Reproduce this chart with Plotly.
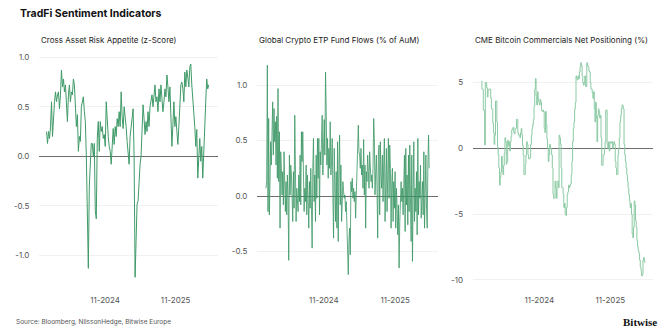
import pandas as pd
import plotly.graph_objects as go

# ---------------- data ----------------
risk_start, risk_end = "2024-01-03", "2026-04-21"
risk_appetite = [
    0.25, 0.13, 0.25, 0.18, 0.3, 0.55, 0.2, 0.45, 0.55, 0.65, 0.55, 0.62, 0.65, 0.48, 0.62, 0.87,
    0.7, 0.78, 0.65, 0.72, 0.45, 0.35, 0.62, 0.72, 0.55, 0.65, 0.62, 0.78, 0.72, 0.45, 0.3, 0.42,
    0.05, 0.2, 0.15, 0.5, 0.55, 0.6, 0.45, 0.35, 0.0, -0.5, -1.13, -0.3, -0.12, 0.13, 0.13, 0.0,
    0.13, -0.55, -0.63, 0.18, 0.35, 0.05, 0.35, 0.25, 0.3, 0.18, 0.22, 0.1, 0.55, 0.3, 0.2, 0.1,
    0.05, -0.08, 0.15, 0.28, 0.12, 0.3, 0.2, 0.38, 0.3, 0.45, 0.3, 0.65, 0.4, 0.28, 0.5, 0.42,
    0.3, 0.15, 0.05, -0.08, 0.2, 0.3, 0.4, 0.48, 0.0, -1.22, -0.85, -0.48, -0.45, -0.2, -0.08, 0.0,
    0.25, 0.52, 0.38, 0.22, 0.35, 0.25, 0.45, 0.3, 0.5, 0.55, 0.62, 0.5, 0.62, 0.72, 0.55, 0.6,
    0.45, 0.68, 0.55, 0.72, 0.58, 0.45, 0.55, 0.68, 0.6, 0.82, 0.7, 0.55, 0.7, 0.3, 0.1, 0.32,
    0.55, 0.3, 0.4, 0.25, 0.12, 0.3, 0.5, 0.72, 0.75, 0.68, 0.55, 0.85, 0.7, 0.87, 0.8, 0.7,
    0.9, 0.93, 0.72, 0.6, 0.45, 0.3, 0.1, 0.27, -0.22, 0.0, 0.18, -0.05, 0.1, -0.22, 0.12, 0.3,
    0.55, 0.78, 0.68, 0.72,
]

flows_start, flows_end = "2024-01-10", "2026-04-24"
etp_flows = [
    0.07, 0.13, 1.18, -0.14, 0.70, -0.17, 0.13, 0.49, 0.28, 0.49, 0.85, 0.37, 0.79, 0.49, 0.67, 0.28,
    0.72, 0.16, 0.97, 0.13, 0.58, -0.29, 0.40, 0.25, 0.01, 0.22, -0.08, 0.40, 0.07, -0.14, 0.13, -0.17,
    0.19, -0.02, -0.58, 0.37, 0.01, 0.28, 0.19, 0.01, -0.23, 0.22, -0.11, 0.73, 0.04, -0.23, 0.07, -0.08,
    -0.14, 0.19, -0.05, 0.37, -0.08, 0.58, 0.31, 0.58, 0.22, -0.14, 0.07, -0.05, 0.28, -0.17, 0.19, 0.01,
    -0.29, 0.13, -0.11, 0.25, -0.02, -0.47, 0.25, 0.52, -0.05, 0.19, -0.23, 0.37, -0.02, 0.52, 0.16, 0.52,
    -0.17, 0.40, 0.28, 0.52, 0.73, 0.19, 0.46, 0.69, 0.37, 1.12, 0.79, 0.28, 0.52, 0.16, 0.43, 0.25,
    0.67, 0.19, 0.31, 0.52, 0.01, -0.38, 0.43, 0.13, -0.23, 0.22, -0.29, 0.49, -0.41, 0.25, 0.55, -0.08,
    0.28, -0.23, 0.01, 0.13, 0.04, -0.02, 0.01, -0.14, -0.05, -0.29, -0.47, -0.71, -0.41,
    -0.29, -0.53, 0.13, 0.04, 0.16, -0.02, 0.07, -0.05, 0.04, -0.20, 0.01, 0.13, 0.28, 0.64, 0.40, 0.37,
    0.25, 0.43, 0.19, 0.28, 0.07, 0.51, 0.01, 0.28, -0.29, 0.22, 0.13, 0.37, 0.22, 0.07, 0.40, 0.28,
    0.13, 0.19, 0.07, 0.25, 0.70, 0.52, 0.01, 0.22, 0.37, 0.07, -0.38, 0.37, 0.46, -0.17, 0.49, 0.19,
    0.07, 0.37, -0.05, 0.31, 0.52, -0.23, 0.28, 0.43, -0.14, 0.25, 0.52, -0.02, 0.46, 0.25, -0.29, 0.13,
    0.25, -0.23, 0.13, -0.11, 0.22, -0.29, 0.07, -0.11, -0.35, -0.08, -0.65, -0.23, -0.05, 0.13, -0.05, 0.07,
    -0.17, 0.10, 0.37, -0.32, 0.43, -0.08, 0.19, -0.26, 0.37, -0.14, 0.46, -0.02, -0.41, 0.37, -0.59, 0.01,
    0.49, -0.23, 0.07, -0.14, 0.22, -0.35, 0.52, -0.17, 0.13, -0.02, 0.28, -0.20, 0.01, 0.13, -0.17, 0.40,
    -0.29, -0.02, 0.37, -0.11, -0.29, 0.28, 0.55, 0.25,
]

cme_start, cme_end = "2024-01-08", "2026-04-28"
cme_positioning = [
    5.1, 4.5, 4.5, 2.9, 2.9, 0.25, 5.0, 5.0, 4.6, 3.9, 4.4, 4.5, 4.5, 4.5, 3.8, 3.0,
    3.0, 1.9, 1.2, 0.3, 1.0, 3.6, 3.6, 2.0, 0.1, -0.5, -1.5, -2.8, -2.2, -1.8, -0.6, -1.5,
    -2.0, -1.3, -0.4, 0.8, 0.5, -1.2, -1.0, 0.6, 0.2, 0.5, -0.2, 0.5, 0.9, 1.4, 1.5, 1.6,
    1.2, 1.1, 1.5, 1.5, 2.2, 2.2, 1.2, 1.0, 1.0, 0.8, 1.2, 1.5, 1.0, 0.2, -0.5, -2.0,
    -2.0, -1.2, -0.5, 0.5, 0.3, -0.5, -0.8, -0.8, -0.7,
    0.3, 1.0, 1.5, 1.8, 2.2, 3.2, 4.5, 5.3, 4.0, 3.3, 4.3, 3.8, 3.5, 3.3, 3.7, 3.5,
    2.9, 2.8, 2.9, 2.8, 1.5, 1.2, 2.8, 1.8, 0.7, 0.0, -1.0, -0.5, 0.3, 0.0, 0.0, -0.5,
    -1.5, -3.5, -3.8, -3.8, -2.5, -3.0, -3.8, -2.5, -2.5, -3.0, 1.0, 0.8, 0.3, -1.5, -3.0, -3.0,
    -3.5, -4.5, -4.2, -5.0, -5.1, -4.5, -3.5, -3.3, -2.8, -3.0, -2.8, -2.7, -2.0, -1.0, 0.5, 1.5,
    2.0, 3.0, 3.5, 5.5, 5.3, 5.2, 5.5, 5.3, 5.8, 6.2, 6.5, 6.3, 5.5, 5.0, 4.8, 5.0,
    5.5, 4.7, 4.7, 6.5, 6.3, 6.2, 5.9, 5.8, 5.0, 4.5, 4.5, 4.2, 3.8, 4.3, 3.0, 2.0,
    3.5, 2.3, 0.5, 2.5, 3.0, 2.8, 2.3, 2.5, 0.8, -1.3, -1.3, -0.5, -0.5, 0.0, 0.5, 2.9,
    2.9, 0.3, 0.0, 0.5, -0.2, 0.4, 0.5, 0.4, 0.5, 0.0, 0.3, 0.5, 0.3, -1.0, -1.5, -2.0,
    -2.0, -0.5, 0.0, 0.8, 2.0, 2.5, 3.0, 3.3, 3.2, 3.0, 0.3, -0.5, -1.0, -1.5, -2.0, -2.5,
    -3.0, -3.5, -4.0, -4.5, -4.2, -5.0, -6.5, -6.8, -6.0, -4.0, -4.3, -5.5, -6.0, -7.0, -7.5, -7.8,
    -8.0, -8.5, -9.0, -9.3, -9.7, -9.6, -8.5, -8.3, -8.6, -8.7,
]

x_range = ["2023-11-25", "2026-06-08"]
x_tickvals = ["2024-11-01", "2025-11-01"]
x_ticktext = ["11-2024", "11-2025"]

panel_titles = [
    "Cross Asset Risk Appetite (z-Score)",
    "Global Crypto ETP Fund Flows (% of AuM)",
    "CME Bitcoin Commercials Net Positioning (%)",
]
y_ranges = [[-1.328, 1.052], [-0.83, 1.30], [-10.62, 7.32]]
y_ticks = [[-1.0, -0.5, 0.0, 0.5, 1.0], [-0.5, 0.0, 0.5, 1.0], [-10, -5, 0, 5]]
y_ticktext = [["-1.0", "-0.5", "0.0", "0.5", "1.0"], ["-0.5", "0.0", "0.5", "1.0"], ["-10", "-5", "0", "5"]]

main_title = "TradFi Sentiment Indicators"
source_text = "Source: Bloomberg, NilssonHedge, Bitwise Europe"
brand = "Bitwise"

# ---------------- figure ----------------
W, H = 671, 336
FONT = "Inter, Liberation Sans, Arial, sans-serif"

series = [
    (pd.date_range(risk_start, risk_end, periods=len(risk_appetite)), risk_appetite, "#3f9a68", "linear", 1.0),
    (pd.date_range(flows_start, flows_end, periods=len(etp_flows)), etp_flows, "#3a9563", 0.8),
    (pd.date_range(cme_start, cme_end, periods=len(cme_positioning)), cme_positioning, "#8ccaa4", "hv", 1.0),
]
series[1] = (series[1][0], series[1][1], series[1][2], "linear", series[1][3])

x_domains = [[39 / W, 218 / W], [257 / W, 438 / W], [472.7 / W, 653 / W]]
y_domain = [1 - 288 / H, 1 - 52 / H]

fig = go.Figure()
layout = dict(
    width=W, height=H,
    margin=dict(l=0, r=0, t=0, b=0),
    paper_bgcolor="white", plot_bgcolor="white",
    showlegend=False,
    font=dict(family=FONT, color="#444444", size=8),
)

annotations = []
for i, (xs, ys, color, shape, lw) in enumerate(series):
    n = "" if i == 0 else str(i + 1)
    fig.add_trace(go.Scatter(x=xs, y=ys, mode="lines",
                             line=dict(color=color, width=lw, shape=shape),
                             xaxis="x" + n, yaxis="y" + n, hoverinfo="skip"))
    layout["xaxis" + n] = dict(
        domain=x_domains[i], range=x_range, type="date",
        tickvals=x_tickvals, ticktext=x_ticktext,
        showgrid=False, zeroline=False, showline=False,
        ticks="outside", ticklen=4, tickcolor="rgba(0,0,0,0)",
        tickfont=dict(size=8, color="#555555"), anchor="y" + n,
    )
    layout["yaxis" + n] = dict(
        domain=y_domain, range=y_ranges[i],
        tickvals=y_ticks[i], ticktext=y_ticktext[i],
        showgrid=True, gridcolor="#f1f1f1", gridwidth=1,
        zeroline=True, zerolinecolor="#6e6e6e", zerolinewidth=1,
        showline=False, ticks="outside", ticklen=7, tickcolor="rgba(0,0,0,0)",
        tickfont=dict(size=8, color="#555555"), anchor="x" + n,
    )
    annotations.append(dict(
        text=panel_titles[i], xref="paper", yref="paper",
        x=x_domains[i][0], y=1 - 40 / H, xanchor="left", yanchor="middle",
        showarrow=False, font=dict(size=8, color="#222222", family=FONT),
    ))

annotations.append(dict(text="<b>" + main_title + "</b>", xref="paper", yref="paper",
                        x=18 / W, y=1 - 14 / H, xanchor="left", yanchor="middle",
                        showarrow=False, font=dict(size=10.5, color="#111111", family=FONT)))
annotations.append(dict(text=source_text, xref="paper", yref="paper",
                        x=14 / W, y=1 - 322 / H, xanchor="left", yanchor="middle",
                        showarrow=False, font=dict(size=6.5, color="#555555", family=FONT)))
annotations.append(dict(text="<b>" + brand + "</b>", xref="paper", yref="paper",
                        x=659 / W, y=1 - 322 / H, xanchor="right", yanchor="middle",
                        showarrow=False, font=dict(size=11, color="#111111",
                                                   family="Liberation Serif, DejaVu Serif, serif")))
layout["annotations"] = annotations
fig.update_layout(**layout)
fig.write_html("out.html")
